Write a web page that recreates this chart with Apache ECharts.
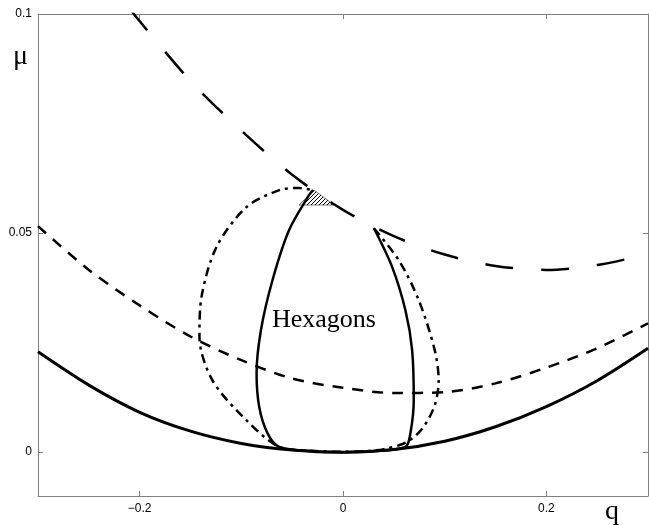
<!DOCTYPE html>
<html>
<head>
<meta charset="utf-8">
<script src="https://cdn.jsdelivr.net/npm/echarts@6/dist/echarts.min.js"></script>
<style>
html, body { margin: 0; padding: 0; background: #fff; }
#chart { width: 649px; height: 525px; }
</style>
</head>
<body>
<div id="chart"></div>
<script>
// tick positions
var xTicks = [-0.2, 0, 0.2];
var yTicks = [0, 0.05, 0.1];

// lowest solid parabola
var lowerCurve = [
	[-0.3, 0.0229], [-0.25, 0.0153], [-0.2, 0.0091], [-0.15, 0.0048], [-0.1, 0.0020],
	[-0.05, 0.0005], [0, 0], [0.05, 0.0006], [0.1, 0.0025], [0.15, 0.0058],
	[0.2, 0.0104], [0.25, 0.0163], [0.3, 0.0237]
];
// middle dashed curve
var middleCurve = [
	[-0.3, 0.0516], [-0.25, 0.0416], [-0.2, 0.0335], [-0.15, 0.0264], [-0.1, 0.0210],
	[-0.05, 0.0168], [0, 0.0147], [0.05, 0.0135], [0.1, 0.0137], [0.15, 0.0157],
	[0.2, 0.0193], [0.25, 0.0237], [0.3, 0.0294]
];
// upper long-dashed curve
var upperCurve = [
	[-0.21, 0.1012], [-0.15, 0.0847], [-0.1, 0.0734], [-0.05, 0.0633], [0, 0.0553],
	[0.05, 0.0493], [0.1, 0.0451], [0.15, 0.0425], [0.2, 0.0416], [0.25, 0.0427],
	[0.3, 0.0452]
];
// dash-dot boundary
var outerBoundary = [
	[0.0304, 0.0511], [0.0549, 0.0438], [0.0745, 0.0347], [0.0902, 0.0233], [0.0941, 0.0164],
	[0.0902, 0.0107], [0.0784, 0.0055], [0.0627, 0.0023], [0.0402, 0.0007], [0.02, 0.0002],
	[0, 0.0001], [-0.03, 0.0003], [-0.0627, 0.0012], [-0.0951, 0.0073], [-0.1284, 0.0164],
	[-0.1412, 0.0263], [-0.1392, 0.0354], [-0.1245, 0.0468], [-0.0951, 0.0559],
	[-0.0627, 0.0598], [-0.0431, 0.0603], [-0.0304, 0.0598]
];
// solid hexagon boundary
var hexBoundary = [
	[-0.0294, 0.0598], [-0.0333, 0.0587], [-0.053, 0.0507], [-0.0693, 0.0393], [-0.0807, 0.0279],
	[-0.085, 0.0180], [-0.0824, 0.0103], [-0.0742, 0.0043], [-0.0627, 0.0012], [-0.03, 0.0002],
	[0, 0], [0.03, 0.0002], [0.0614, 0.0012], [0.0663, 0.0043], [0.0696, 0.0119],
	[0.068, 0.0233], [0.0614, 0.0324], [0.0483, 0.0423], [0.0304, 0.0511]
];
// small hatched patch at the top
var hatchPatch = [[-0.0284, 0.0598], [-0.0431, 0.0564], [-0.0088, 0.0564]];

var hatchCanvas = document.createElement('canvas');
hatchCanvas.width = 4;
hatchCanvas.height = 4;
var hctx = hatchCanvas.getContext('2d');
hctx.strokeStyle = '#000';
hctx.lineWidth = 1;
hctx.beginPath();
hctx.moveTo(0, 4);
hctx.lineTo(4, 0);
hctx.stroke();

function tickText(v) {
	if (v < 0) return '\u2212' + (-v);
	return String(v);
}

var axisGray = '#808080';

function xAx(pos, labels) {
	return {
		type: 'value',
		position: pos,
		min: -0.3,
		max: 0.3,
		axisLine: { show: true, onZero: false, lineStyle: { color: axisGray, width: 1 } },
		axisTick: { show: true, inside: true, length: 5, customValues: xTicks, lineStyle: { color: axisGray } },
		axisLabel: {
			show: labels,
			customValues: xTicks,
			formatter: tickText,
			color: '#000',
			fontSize: 12,
			fontFamily: 'Liberation Sans',
			margin: 7
		},
		splitLine: { show: false }
	};
}

function yAx(pos, labels) {
	return {
		type: 'value',
		position: pos,
		min: -0.01,
		max: 0.1,
		axisLine: { show: true, onZero: false, lineStyle: { color: axisGray, width: 1 } },
		axisTick: { show: true, inside: true, length: 5, customValues: yTicks, lineStyle: { color: axisGray } },
		axisLabel: {
			show: labels,
			customValues: yTicks,
			formatter: tickText,
			color: '#000',
			fontSize: 12,
			fontFamily: 'Liberation Sans',
			margin: 6
		},
		splitLine: { show: false }
	};
}

function curve(data, width, dash) {
	return {
		type: 'line',
		data: data,
		symbol: 'none',
		smooth: 0.3,
		silent: true,
		lineStyle: { color: '#000', width: width, type: dash }
	};
}

var myChart = echarts.init(document.getElementById('chart'));
var options = {
	animation: false,
	backgroundColor: '#fff',
	grid: { left: 38, right: 1, top: 14, bottom: 29, containLabel: false },
	xAxis: [xAx('bottom', true), xAx('top', false)],
	yAxis: [yAx('left', true), yAx('right', false)],
	graphic: [
		{ type: 'text', left: 13, top: 43, style: { text: '\u03bc', font: '28px "Liberation Serif"', fill: '#000' } },
		{ type: 'text', left: 605, top: 498, style: { text: 'q', font: '28px "Liberation Serif"', fill: '#000' } },
		{ type: 'text', left: 272, top: 307, style: { text: 'Hexagons', font: '26px "Liberation Serif"', fill: '#000' } }
	],
	series: [
		curve(lowerCurve, 3, 'solid'),
		curve(middleCurve, 2.5, [11, 9]),
		curve(upperCurve, 2.5, [28, 28]),
		curve(outerBoundary, 2.5, [9, 5, 3, 5]),
		curve(hexBoundary, 2.5, 'solid'),
		{
			type: 'custom',
			silent: true,
			data: [hatchPatch[0]],
			renderItem: function (params, api) {
				var pts = hatchPatch.map(function (p) { return api.coord(p); });
				return {
					type: 'polygon',
					shape: { points: pts },
					style: { fill: { image: hatchCanvas, repeat: 'repeat' }, stroke: '#000', lineWidth: 0.5 }
				};
			}
		}
	]
};
myChart.setOption(options);
</script>
</body>
</html>
